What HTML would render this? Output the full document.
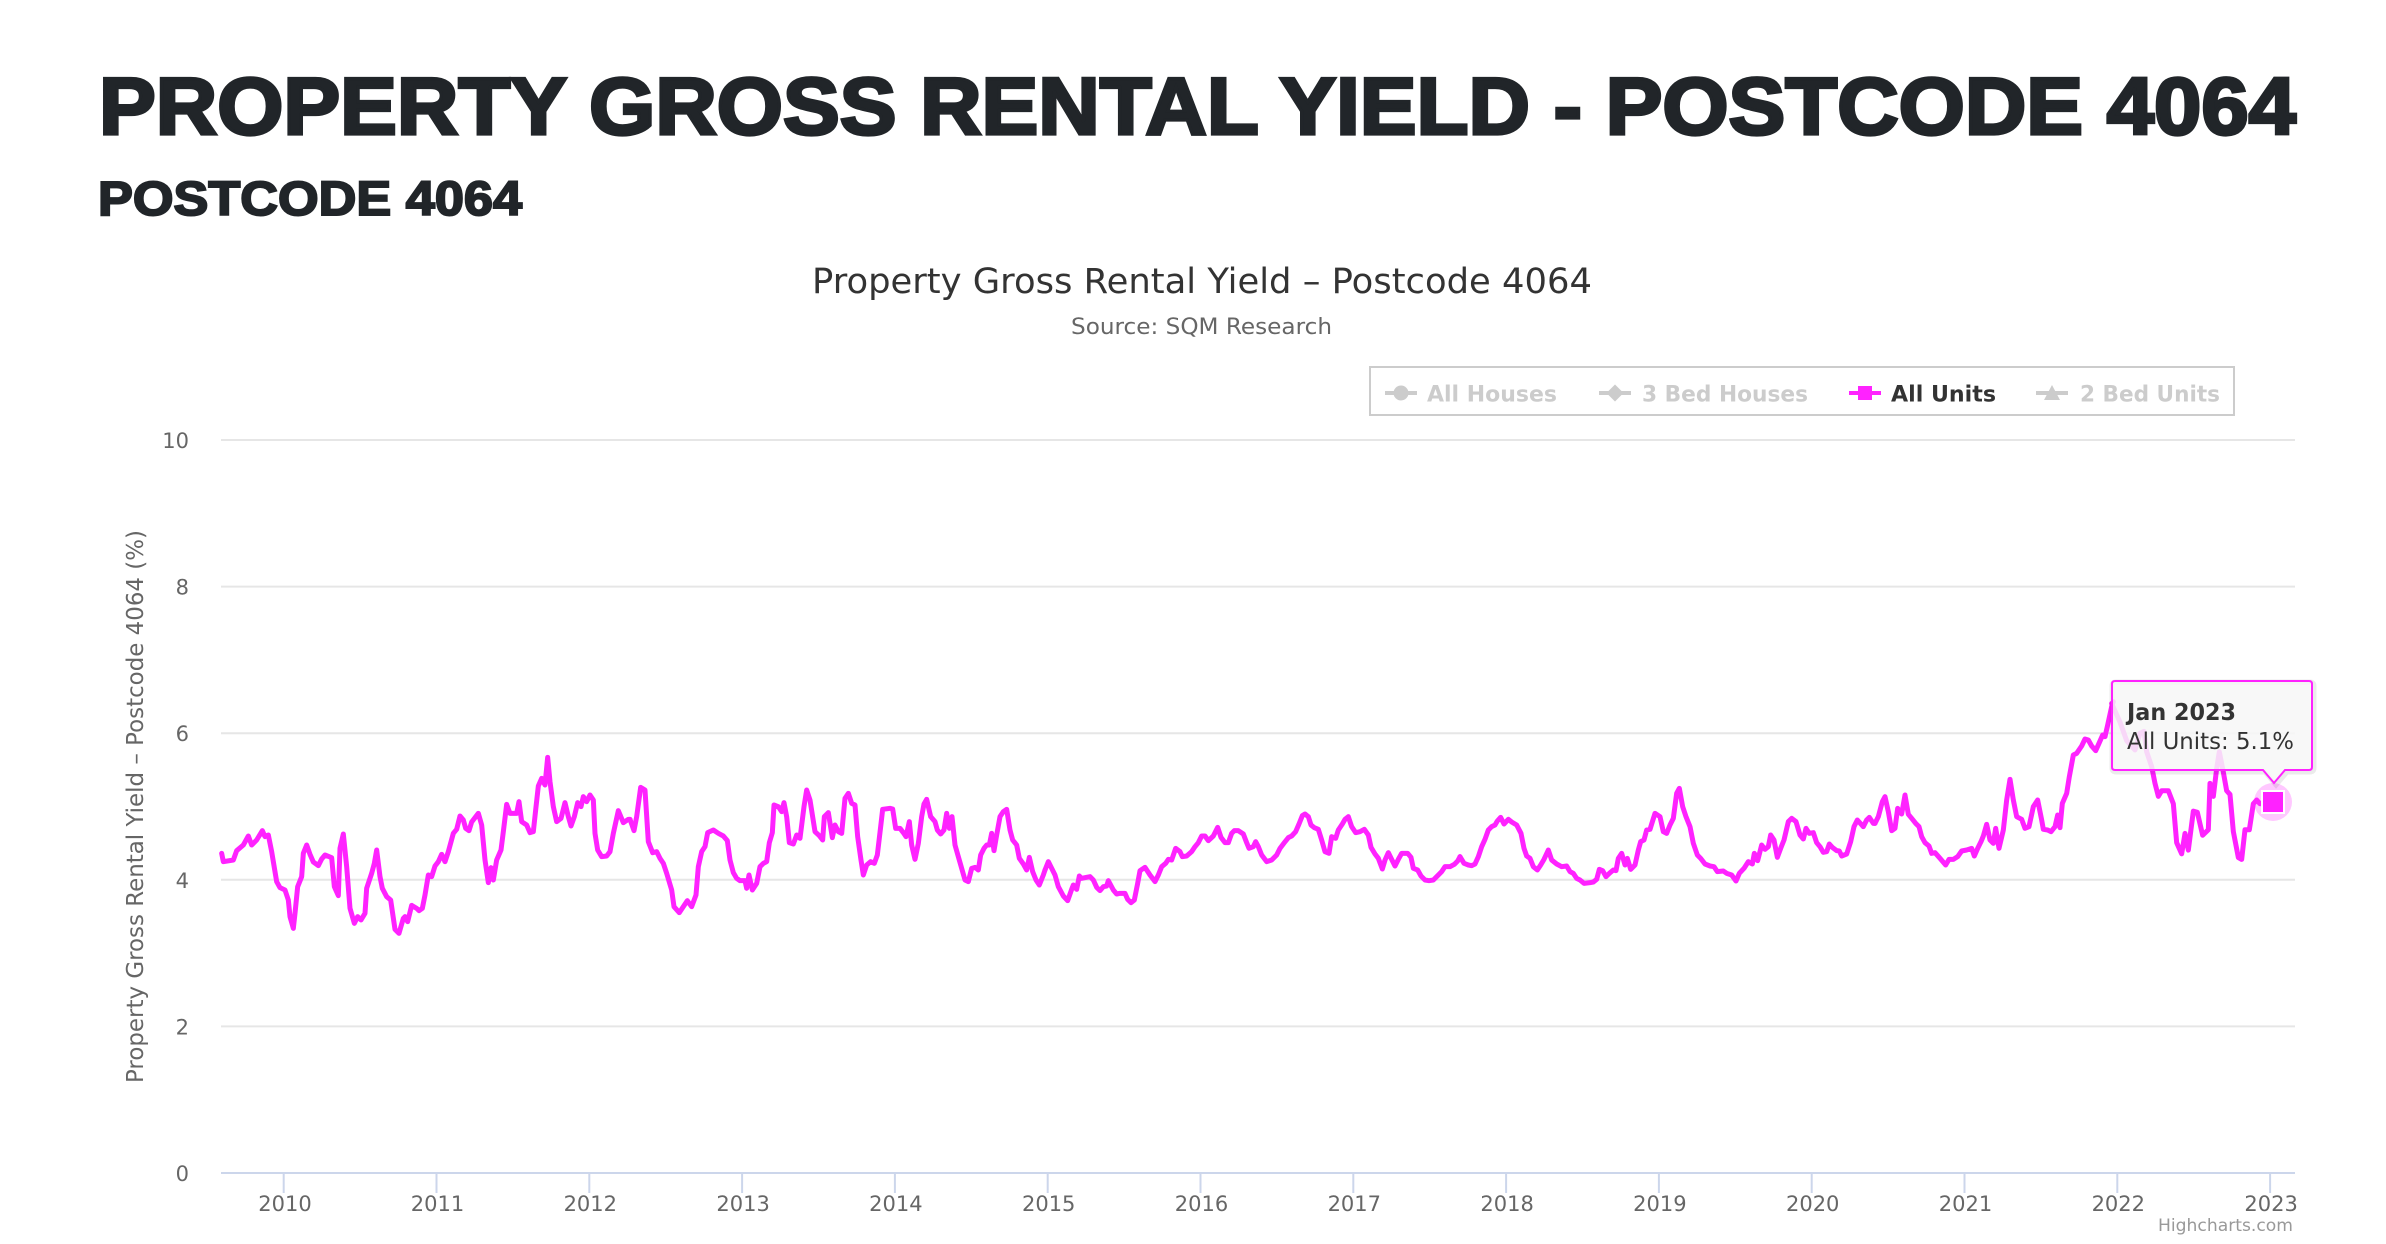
<!DOCTYPE html>
<html>
<head>
<meta charset="utf-8">
<style>
html,body{margin:0;padding:0;background:#fff;}
svg{display:block;}
</style>
</head>
<body>
<svg width="2386" height="1244" viewBox="0 0 2386 1244" xmlns="http://www.w3.org/2000/svg">
<rect x="0" y="0" width="2386" height="1244" fill="#fff"/>

<!-- Page headings -->
<text x="99" y="134" font-family="Liberation Sans, sans-serif" font-weight="bold" font-size="81" fill="#212529" stroke="#212529" stroke-width="3.2" textLength="2197" lengthAdjust="spacingAndGlyphs">PROPERTY GROSS RENTAL YIELD - POSTCODE 4064</text>
<text x="98" y="215" font-family="Liberation Sans, sans-serif" font-weight="bold" font-size="48" fill="#212529" stroke="#212529" stroke-width="2" textLength="424" lengthAdjust="spacingAndGlyphs">POSTCODE 4064</text>

<!-- Chart title / subtitle -->
<text x="812" y="293" font-family="DejaVu Sans, sans-serif" font-size="35" fill="#333333" textLength="780" lengthAdjust="spacingAndGlyphs">Property Gross Rental Yield – Postcode 4064</text>
<text x="1071" y="334" font-family="DejaVu Sans, sans-serif" font-size="22" fill="#666666" textLength="261" lengthAdjust="spacingAndGlyphs">Source: SQM Research</text>

<!-- Legend -->
<rect x="1370" y="367" width="864" height="48" fill="#fff" stroke="#cccccc" stroke-width="2"/>
<g font-family="DejaVu Sans, sans-serif" font-weight="bold" font-size="22">
  <line x1="1385" y1="393" x2="1417" y2="393" stroke="#cccccc" stroke-width="4"/>
  <circle cx="1401" cy="393" r="7.5" fill="#cccccc"/>
  <text x="1427" y="401.7" fill="#cccccc" textLength="130" lengthAdjust="spacingAndGlyphs">All Houses</text>

  <line x1="1599" y1="393" x2="1631" y2="393" stroke="#cccccc" stroke-width="4"/>
  <path d="M1615 384.5 L1623.5 393 L1615 401.5 L1606.5 393 Z" fill="#cccccc"/>
  <text x="1642" y="401.7" fill="#cccccc" textLength="166" lengthAdjust="spacingAndGlyphs">3 Bed Houses</text>

  <line x1="1849" y1="393" x2="1881" y2="393" stroke="#ff22ff" stroke-width="4"/>
  <rect x="1858" y="386" width="14" height="14" fill="#ff22ff"/>
  <text x="1891" y="401.7" fill="#333333" textLength="105" lengthAdjust="spacingAndGlyphs">All Units</text>

  <line x1="2036" y1="393" x2="2068" y2="393" stroke="#cccccc" stroke-width="4"/>
  <path d="M2052 385 L2060 400 L2044 400 Z" fill="#cccccc"/>
  <text x="2080" y="401.7" fill="#cccccc" textLength="140" lengthAdjust="spacingAndGlyphs">2 Bed Units</text>
</g>

<!-- Grid lines -->
<g stroke="#e6e6e6" stroke-width="2">
  <line x1="221" y1="440" x2="2295" y2="440"/>
  <line x1="221" y1="586.6" x2="2295" y2="586.6"/>
  <line x1="221" y1="733.2" x2="2295" y2="733.2"/>
  <line x1="221" y1="879.8" x2="2295" y2="879.8"/>
  <line x1="221" y1="1026.4" x2="2295" y2="1026.4"/>
</g>

<!-- X axis line and ticks -->
<g stroke="#ccd6eb" stroke-width="2">
  <line x1="221" y1="1173" x2="2295" y2="1173"/>
  <line x1="283.7" y1="1173" x2="283.7" y2="1193"/>
  <line x1="436.5" y1="1173" x2="436.5" y2="1193"/>
  <line x1="589.3" y1="1173" x2="589.3" y2="1193"/>
  <line x1="742.1" y1="1173" x2="742.1" y2="1193"/>
  <line x1="894.9" y1="1173" x2="894.9" y2="1193"/>
  <line x1="1047.7" y1="1173" x2="1047.7" y2="1193"/>
  <line x1="1200.5" y1="1173" x2="1200.5" y2="1193"/>
  <line x1="1353.3" y1="1173" x2="1353.3" y2="1193"/>
  <line x1="1506.1" y1="1173" x2="1506.1" y2="1193"/>
  <line x1="1658.9" y1="1173" x2="1658.9" y2="1193"/>
  <line x1="1811.7" y1="1173" x2="1811.7" y2="1193"/>
  <line x1="1964.5" y1="1173" x2="1964.5" y2="1193"/>
  <line x1="2117.3" y1="1173" x2="2117.3" y2="1193"/>
  <line x1="2270.1" y1="1173" x2="2270.1" y2="1193"/>
</g>

<!-- Y axis labels -->
<g font-family="DejaVu Sans, sans-serif" font-size="21" fill="#666666" text-anchor="end">
  <text x="189" y="448">10</text>
  <text x="189" y="594.6">8</text>
  <text x="189" y="741.2">6</text>
  <text x="189" y="887.8">4</text>
  <text x="189" y="1034.4">2</text>
  <text x="189" y="1181">0</text>
</g>

<!-- X axis labels -->
<g font-family="DejaVu Sans, sans-serif" font-size="21" fill="#666666" text-anchor="middle">
  <text x="285" y="1211">2010</text>
  <text x="437.5" y="1211">2011</text>
  <text x="590.3" y="1211">2012</text>
  <text x="743.1" y="1211">2013</text>
  <text x="895.9" y="1211">2014</text>
  <text x="1048.7" y="1211">2015</text>
  <text x="1201.5" y="1211">2016</text>
  <text x="1354.3" y="1211">2017</text>
  <text x="1507.1" y="1211">2018</text>
  <text x="1659.9" y="1211">2019</text>
  <text x="1812.7" y="1211">2020</text>
  <text x="1965.5" y="1211">2021</text>
  <text x="2118.3" y="1211">2022</text>
  <text x="2271.1" y="1211">2023</text>
</g>

<!-- Y axis title -->
<text transform="translate(143,806.5) rotate(-90)" text-anchor="middle" font-family="DejaVu Sans, sans-serif" font-size="23" fill="#666666" textLength="553" lengthAdjust="spacingAndGlyphs">Property Gross Rental Yield – Postcode 4064 (%)</text>

<!-- Series line -->
<g fill="none" stroke="#ff22ff" stroke-width="5" stroke-linejoin="round" stroke-linecap="round">
<polyline vector-effect="non-scaling-stroke" transform="translate(215,660) scale(0.333333)" points="20,580 25,605 55,600 65,572 85,555 100,528 110,555 125,540 142,512 150,530 160,525 170,575 185,665 195,683 210,690 220,720 225,770 235,805 240,760 248,680 260,650 265,580 275,555 285,583 295,606 310,617 320,597 330,585 350,593 358,680 370,707 375,565 385,522 395,620 405,745 418,790 428,770 438,780 450,760 455,685 470,640 478,610 485,570 495,650 502,685 515,710 527,720 540,808 552,820 565,775 570,770 578,785 590,736 605,745 612,752 622,745 630,705 640,645 650,650 660,618 670,605 680,583 690,605 700,575 715,520 725,508 735,468 745,480 752,505 762,512 770,486 790,460 800,495 810,600 820,668 828,623 835,660 845,600 858,570 865,515 875,433 885,460 905,460 912,425 920,485 935,495 945,518 955,515 962,450 970,378 980,355 990,375 998,292 1005,365 1015,440 1025,485 1038,475 1050,428 1060,470 1068,498 1078,470 1088,428 1098,440 1105,410 1115,425 1125,405 1135,420 1140,520 1148,570 1160,590 1175,588 1185,575 1195,520 1210,452 1225,488 1240,478 1245,478"/>
<polyline vector-effect="non-scaling-stroke" transform="translate(630,660) scale(0.333333)" points="0,478 12,512 20,470 32,382 45,390 55,545 68,578 80,575 90,595 100,610 110,640 125,690 132,740 148,758 160,740 172,722 185,740 198,705 205,620 215,575 225,560 233,518 250,510 265,520 280,528 292,542 300,600 310,638 320,655 330,662 345,662 350,685 357,645 367,690 380,670 390,620 400,610 410,605 418,548 427,518 432,435 445,440 455,455 462,428 470,470 478,548 490,552 500,525 510,535 522,440 530,390 540,420 555,515 568,527 578,540 583,470 595,458 607,533 615,495 625,515 635,520 645,415 655,400 665,430 675,435 683,530 693,600 700,645 710,615 722,605 733,610 742,585 752,500 758,448 780,445 788,447 797,505 810,505 820,518 828,530 838,485 845,555 855,598 865,550 875,470 882,432 890,418 902,470 915,485 922,510 932,522 942,510 950,460 958,505 966,470 975,555 985,590 995,625 1005,660 1015,665 1025,625 1035,622 1045,630 1052,585 1062,565 1070,555 1078,555 1085,520 1092,572 1100,525 1110,470 1120,455 1130,448 1140,510 1148,540 1160,555 1168,595 1180,612 1190,630 1198,592 1208,635 1218,660 1228,675 1240,645 1245,630"/>
<polyline vector-effect="non-scaling-stroke" transform="translate(1045,660) scale(0.333333)" points="0,630 10,605 30,645 40,680 55,708 68,722 80,688 85,675 95,688 103,648 110,655 125,652 135,650 145,660 155,682 165,692 175,680 185,678 190,662 205,690 215,702 225,700 240,700 248,718 258,728 268,720 278,670 285,632 300,622 315,645 330,665 340,645 350,620 362,610 370,598 380,600 392,565 405,575 412,590 425,588 440,575 450,560 460,548 470,528 480,528 490,542 505,528 518,502 528,532 540,548 550,548 560,520 568,512 580,512 595,522 605,548 612,565 625,560 632,545 640,560 650,585 665,605 680,600 695,585 705,565 718,548 730,533 740,528 752,515 762,492 772,467 780,462 790,470 798,495 808,503 820,508 830,540 840,575 852,580 860,530 872,535 880,510 892,492 900,478 910,470 920,500 932,518 945,515 958,508 970,525 978,562 990,582 1000,595 1012,627 1020,600 1030,578 1040,598 1050,618 1060,598 1070,580 1088,580 1098,592 1105,625 1118,630 1128,648 1140,660 1152,662 1165,660 1180,645 1190,635 1200,620 1215,620 1228,613 1238,603 1245,590"/>
<polyline vector-effect="non-scaling-stroke" transform="translate(1460,660) scale(0.333333)" points="0,590 12,610 25,615 35,617 45,612 55,590 65,560 75,538 85,510 95,500 105,495 112,483 122,472 132,492 145,478 155,486 170,495 183,520 192,565 200,588 210,595 220,620 232,630 242,615 252,598 265,570 275,600 290,612 305,620 320,618 330,635 340,640 350,655 360,660 372,670 390,668 400,666 410,658 418,628 428,632 438,650 448,640 460,630 468,632 475,595 485,580 495,615 502,595 512,628 525,615 535,570 542,545 552,540 560,510 570,508 585,460 600,470 610,515 620,520 630,495 640,475 650,400 658,385 668,440 678,470 690,500 700,550 712,585 722,595 735,612 750,618 762,620 772,635 790,633 800,640 815,645 828,663 838,640 852,625 865,605 877,612 883,580 893,602 905,555 915,568 925,560 932,525 942,540 952,592 962,565 972,540 985,485 995,475 1008,485 1020,525 1030,537 1038,505 1048,520 1060,518 1070,548 1080,560 1090,577 1100,575 1108,552 1118,563 1130,572 1138,573 1145,588 1160,582 1172,545 1182,500 1192,480 1210,500 1220,480 1228,472 1240,490 1245,490"/>
<polyline vector-effect="non-scaling-stroke" transform="translate(1875,660) scale(0.333333)" points="0,490 10,470 22,425 30,410 40,455 50,512 60,505 68,445 80,462 90,405 100,463 110,475 122,490 132,500 140,530 150,548 162,558 170,580 180,578 195,595 212,615 222,598 235,598 248,590 260,573 275,570 290,565 298,588 308,565 318,545 325,528 335,493 345,540 355,550 362,505 372,565 385,510 395,420 405,358 415,420 425,470 440,478 450,505 462,500 475,440 488,420 500,480 505,508 518,510 528,515 540,500 548,465 555,503 562,430 575,400 583,350 595,285 605,280 620,258 630,237 640,240 650,258 662,272 672,250 683,225 690,230 698,195 710,140 715,125"/>
<polyline vector-effect="non-scaling-stroke" transform="translate(1980,660.9) scale(0.333333,0.371)" points="395,115 420,165 440,215 465,240 480,195 492,190 500,245 515,285 525,330 535,365 545,350 565,350 580,385 590,490 605,520 615,465 625,510 640,405 652,408 668,470 685,455 690,330 700,365 710,290 718,245 730,300 740,350 750,360 760,460 775,530 785,535 795,455 808,455 820,385 830,375 840,385 880,382"/>
</g>

<!-- Hover halo and marker -->
<circle cx="2273" cy="802" r="19" fill="#ff22ff" fill-opacity="0.25"/>
<rect x="2262" y="791" width="22" height="22" fill="#ff22ff" stroke="#ffffff" stroke-width="2"/>

<!-- Tooltip -->
<path d="M2116 682 L2310 682 Q2314 682 2314 686 L2314 768 Q2314 772 2310 772 L2287 772 L2276 785 L2265 772 L2116 772 Q2112 772 2112 768 L2112 686 Q2112 682 2116 682 Z" fill="none" stroke="#000" stroke-opacity="0.08" stroke-width="5"/>
<path d="M2115 681 L2309 681 Q2312 681 2312 684 L2312 767 Q2312 770 2309 770 L2285 770 L2274 783 L2263 770 L2115 770 Q2112 770 2112 767 L2112 684 Q2112 681 2115 681 Z" fill="#f7f7f7" fill-opacity="0.85" stroke="#ff22ff" stroke-width="2"/>
<text x="2127" y="720" font-family="DejaVu Sans, sans-serif" font-weight="bold" font-size="23" fill="#333333" textLength="109" lengthAdjust="spacingAndGlyphs">Jan 2023</text>
<text x="2127" y="749" font-family="DejaVu Sans, sans-serif" font-size="23" fill="#333333" textLength="167" lengthAdjust="spacingAndGlyphs">All Units: 5.1%</text>

<!-- Credits -->
<text x="2158" y="1231" font-family="DejaVu Sans, sans-serif" font-size="17" fill="#999999" textLength="135" lengthAdjust="spacingAndGlyphs">Highcharts.com</text>
</svg>
</body>
</html>
